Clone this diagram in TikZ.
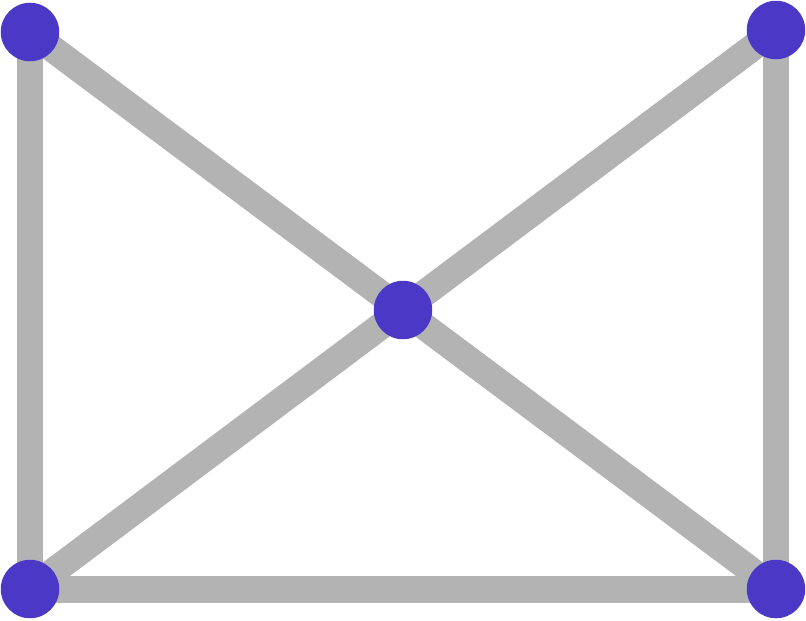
\documentclass[tikz,border=0pt]{standalone}
\usetikzlibrary{backgrounds}
\definecolor{dotblue}{HTML}{4B38C6}
\definecolor{edgegray}{HTML}{B4B3B4}
\tikzset{
  vertex/.style={circle,fill=dotblue,inner sep=0pt,minimum size=1.17cm},
  link/.style={edgegray,line width=0.54cm}
}

\begin{document}
\begin{tikzpicture}[x=0.02cm,y=-0.02cm]
  \useasboundingbox (0,0) rectangle (806,620);
  \node[vertex] (tl) at (30,32) {};
  \node[vertex] (tr) at (776,30) {};
  \node[vertex] (mid) at (403,310) {};
  \node[vertex] (bl) at (30,589) {};
  \node[vertex] (br) at (776,589) {};
  \begin{pgfonlayer}{background}
    \draw[link] (tl.center) -- (bl.center) -- (br.center) -- (tr.center);
    \draw[link] (tl.center) -- (br.center);
    \draw[link] (tr.center) -- (bl.center);
  \end{pgfonlayer}
\end{tikzpicture}
\end{document}
